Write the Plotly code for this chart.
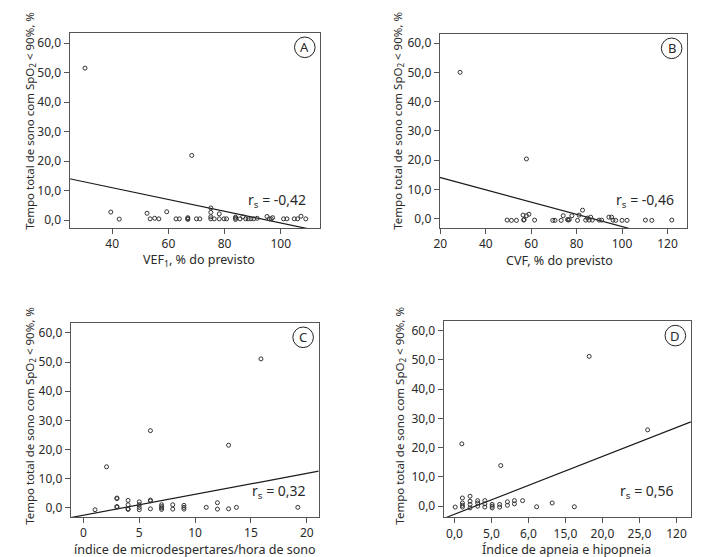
import plotly.graph_objects as go

# ---------------- data ----------------
# Panel A: VEF1 (% predicted) vs time
a_x = [30.3, 68.3, 39.5, 42.5, 52.4, 53.5, 55.1, 56.6, 59.4, 62.7, 63.9,
       66.9, 66.9, 66.9, 70.0, 71.2, 75.1, 75.1, 75.1, 75.1, 76.3, 78.1, 78.1,
       79.8, 80.7, 83.9, 83.9, 83.9, 85.5, 86.5, 87.5, 88.4, 89.4, 90.4, 91.6,
       95.1, 95.9, 96.6, 97.1, 101.0, 102.2, 104.8, 106.0, 107.2, 108.9]
a_y = [51.5, 21.9, 2.7, 0.3, 2.3, 0.4, 0.6, 0.4, 2.8, 0.4, 0.4,
       0.2, 0.5, 0.8, 0.4, 0.4, 4.1, 2.6, 1.1, 0.4, 0.4, 2.1, 0.4,
       0.4, 0.4, 0.2, 0.6, 1.0, 0.4, 1.1, 0.4, 0.4, 0.4, 0.4, 0.6,
       1.2, 0.4, 0.4, 0.8, 0.4, 0.4, 0.4, 0.4, 1.3, 0.4]
a_fit_x = [24.8, 112.0]
a_fit_y = [14.0, -3.4]

# Panel B: CVF (% predicted) vs time
b_x = [28.7, 57.9, 49.4, 51.3, 53.5, 56.4, 56.7, 56.9, 57.9, 59.0, 61.5,
       69.5, 70.5, 73.2, 74.1, 76.0, 76.3, 76.8, 77.9, 80.4, 81.1, 82.6,
       84.0, 84.8, 85.5, 86.2, 86.9, 89.9, 91.0, 94.2, 95.4, 96.0, 97.2,
       100.0, 102.2, 110.3, 113.1, 121.9]
b_y = [50.0, 20.4, -0.5, -0.6, -0.6, 1.2, -0.5, -0.3, 1.0, 1.5, -0.5,
       -0.6, -0.6, -0.6, 1.0, -0.3, -0.5, -0.3, 1.0, -0.6, 1.2, 2.9,
       -0.5, 0.2, -0.5, 0.5, -0.5, -0.5, -0.5, 0.5, 0.5, -0.5, -0.6,
       -0.6, -0.6, -0.5, -0.6, -0.5]
b_fit_x = [19.7, 110.0]
b_fit_y = [14.1, -4.8]

# Panel C: arousal index vs time
c_x = [15.9, 6.0, 13.0, 2.07, 1.04, 3.0, 3.0, 3.0, 3.0, 4.0, 4.0, 4.0, 4.0,
       5.0, 5.0, 5.0, 5.0, 6.0, 6.0, 6.0, 7.0, 7.0, 7.0, 7.0, 8.0, 8.0,
       9.0, 9.0, 9.0, 11.0, 12.0, 12.0, 13.0, 13.7, 19.2]
c_y = [51.1, 26.5, 21.5, 14.1, -0.6, 3.4, 3.2, 0.5, 0.3, 2.6, 1.1, -0.3, -0.5,
       2.1, 1.1, 0.2, -0.6, 2.7, 2.4, -0.3, 1.1, 0.5, 0.0, -0.5, 1.1, -0.4,
       0.9, 0.2, -0.4, 0.2, 1.8, -0.4, -0.3, 0.2, 0.2]
c_fit_x = [-1.13, 21.07]
c_fit_y = [-3.3, 12.6]

# Panel D: apnea-hypopnea index vs time
d_x = [18.2, 26.1, 0.99, 6.25, 0.1, 1.07, 1.07, 1.07, 1.07, 2.1, 2.1, 2.1, 2.1,
       3.13, 3.13, 3.13, 4.1, 4.1, 4.1, 5.09, 5.09, 5.09, 6.1, 6.1,
       7.15, 7.15, 8.1, 8.1, 9.2, 11.1, 13.2, 16.2]
d_y = [51.2, 26.1, 21.3, 13.9, -0.3, 2.8, 1.1, 0.3, -0.3, 3.4, 1.7, 0.6, -0.6,
       1.9, 1.1, 0.0, 1.9, 0.8, -0.3, 0.6, 0.0, -0.6, 0.6, -0.3,
       1.5, 0.3, 1.9, 0.8, 1.9, -0.2, 1.1, -0.2]
d_fit_x = [-1.47, 31.95]
d_fit_y = [-4.2, 28.8]
d_tickvals = [0, 5, 10, 15, 20, 25, 30]
d_ticktext = ["0,0", "5,0", "6,0", "15,0", "20,0", "25,0", "120"]

y_tickvals = [0, 10, 20, 30, 40, 50, 60]
y_ticktext = ["0,0", "10,0", "20,0", "30,0", "40,0", "50,0", "60,0"]

panel_letters = ["A", "B", "C", "D"]
rs_texts = ["r<sub>s</sub> = -0,42", "r<sub>s</sub> = -0,46",
            "r<sub>s</sub> = 0,32", "r<sub>s</sub> = 0,56"]
x_titles = ["VEF<sub>1</sub>, % do previsto", "CVF, % do previsto",
            "índice de microdespertares/hora de sono", "Índice de apneia e hipopneia"]
y_title = "Tempo total de sono com SpO<sub>2</sub> < 90%, %"

# ---------------- layout geometry (pixels) ----------------
W, H = 707, 557
FONT = "Noto Sans"
TXT = "#2a2a2a"
# (left, right, top, bottom) in pixels
boxes = [(56, 309, 25, 220), (429.3, 679, 26, 220),
         (57.3, 307.3, 315, 509), (433.3, 682.7, 313.3, 509.3)]
x_ranges = [[24.8, 114.1], [19.7, 128.7], [-1.13, 21.07], [-1.47, 31.95]]
y_ranges = [[-2.7, 63.4], [-3.2, 63.1], [-3.1, 63.4], [-3.8, 63.2]]
xt_pos = [(186.5, 252), (550, 252), (183, 541), (557, 541)]
yt_pos = [(16, 113), (387, 113), (16, 408), (389, 408)]
rs_pos = [(297, 192), (668, 192), (297, 483), (668, 483)]

def px(x):
    return x / W

def py(y):
    return 1 - y / H

fig = go.Figure()
series = [(a_x, a_y, a_fit_x, a_fit_y), (b_x, b_y, b_fit_x, b_fit_y),
          (c_x, c_y, c_fit_x, c_fit_y), (d_x, d_y, d_fit_x, d_fit_y)]

annotations = []
shapes = []
for i, (sx, sy, fx, fy) in enumerate(series):
    n = "" if i == 0 else str(i + 1)
    xa, ya = "x" + n, "y" + n
    fig.add_trace(go.Scatter(x=fx, y=fy, mode="lines", xaxis=xa, yaxis=ya,
                             line=dict(color="#1a1a1a", width=1.2),
                             showlegend=False, hoverinfo="skip"))
    fig.add_trace(go.Scatter(x=sx, y=sy, mode="markers", xaxis=xa, yaxis=ya,
                             marker=dict(symbol="circle-open", size=4,
                                         color="#333333", line=dict(width=1)),
                             showlegend=False))
    l, r, t, b = boxes[i]
    xkw = dict(domain=[px(l), px(r)], range=x_ranges[i], anchor=ya,
               showline=True, mirror=True, linecolor="#555555", linewidth=1,
               ticks="outside", ticklen=5, tickcolor="#555555",
               showgrid=False, zeroline=False,
               tickfont=dict(family=FONT, size=12, color=TXT))
    if i == 3:
        xkw.update(tickmode="array", tickvals=d_tickvals, ticktext=d_ticktext)
    elif i == 2:
        xkw.update(tickmode="array", tickvals=[0, 5, 10, 15, 20])
    elif i == 1:
        xkw.update(tickmode="array", tickvals=[20, 40, 60, 80, 100, 120])
    else:
        xkw.update(tickmode="array", tickvals=[40, 60, 80, 100])
    ykw = dict(domain=[py(b), py(t)], range=y_ranges[i], anchor=xa,
               showline=True, mirror=True, linecolor="#555555", linewidth=1,
               ticks="outside", ticklen=5, tickcolor="#555555",
               showgrid=False, zeroline=False,
               tickmode="array", tickvals=y_tickvals, ticktext=y_ticktext,
               tickfont=dict(family=FONT, size=12, color=TXT))
    fig.update_layout(**{"xaxis" + n: xkw, "yaxis" + n: ykw})

    # axis titles
    annotations.append(dict(text=x_titles[i], x=px(xt_pos[i][0]), y=py(xt_pos[i][1]),
                            xref="paper", yref="paper", showarrow=False,
                            xanchor="center", yanchor="middle",
                            font=dict(family=FONT, size=12.5, color=TXT)))
    annotations.append(dict(text=y_title, x=px(yt_pos[i][0]), y=py(yt_pos[i][1]),
                            xref="paper", yref="paper", showarrow=False, textangle=-90,
                            xanchor="center", yanchor="middle",
                            font=dict(family=FONT, size=11.5, color=TXT)))
    # r_s
    annotations.append(dict(text=rs_texts[i], x=px(rs_pos[i][0]), y=py(rs_pos[i][1]),
                            xref="paper", yref="paper", showarrow=False,
                            xanchor="right", yanchor="middle",
                            font=dict(family=FONT, size=14, color=TXT)))
    # circled panel letter
    cx, cy = r - 15.7, t + 14.3
    shapes.append(dict(type="circle", xref="paper", yref="paper",
                       xsizemode="pixel", ysizemode="pixel",
                       xanchor=px(cx), yanchor=py(cy),
                       x0=-10.3, x1=10.3, y0=-10.3, y1=10.3,
                       line=dict(color="#222222", width=1)))
    annotations.append(dict(text=panel_letters[i], x=px(cx), y=py(cy),
                            xref="paper", yref="paper", showarrow=False,
                            xanchor="center", yanchor="middle",
                            font=dict(family=FONT, size=13, color=TXT)))

fig.update_layout(width=W, height=H, margin=dict(l=0, r=0, t=0, b=0),
                  paper_bgcolor="white", plot_bgcolor="white",
                  annotations=annotations, shapes=shapes, showlegend=False)
fig.write_html("out.html")
